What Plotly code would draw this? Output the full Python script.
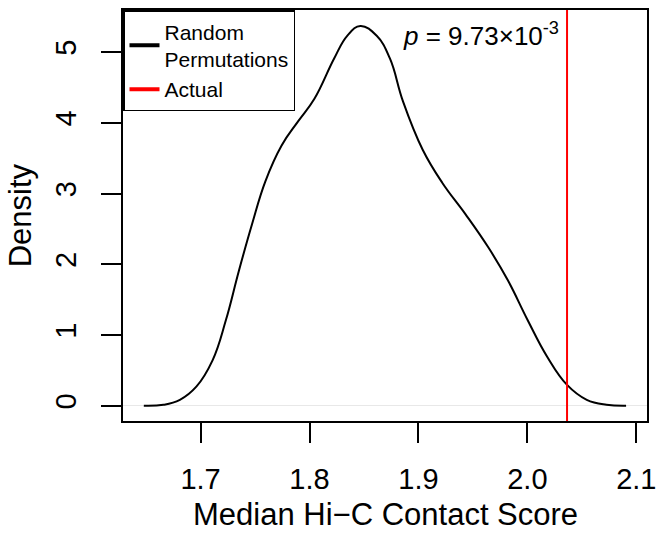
import plotly.graph_objects as go

# Density of random permutations
score = [1.6479, 1.6659, 1.6810, 1.6961, 1.7111, 1.7232, 1.7352, 1.7473, 1.7594,
         1.7744, 1.7895, 1.8045, 1.8226, 1.8346, 1.8467, 1.8617, 1.8738, 1.8859,
         1.9039, 1.9220, 1.9431, 1.9641, 1.9822, 2.0003, 2.0183, 2.0364, 2.0545,
         2.0726, 2.0906]
density = [0.0, 0.014, 0.084, 0.27, 0.646, 1.208, 1.91, 2.57, 3.17,
           3.68, 4.02, 4.34, 4.91, 5.23, 5.37, 5.23, 4.91, 4.30,
           3.62, 3.15, 2.71, 2.24, 1.77, 1.21, 0.69, 0.295, 0.084,
           0.014, 0.0]
actual = 2.0364
p_label = "<i>p</i> = 9.73×10<sup>-3</sup>"
x_ticks = [1.7, 1.8, 1.9, 2.0, 2.1]
x_ticktext = ["1.7", "1.8", "1.9", "2.0", "2.1"]
y_ticks = [0, 1, 2, 3, 4, 5]

x_range = [1.6288, 2.1098]
y_range = [-0.215, 5.595]

FONT = "Liberation Sans, Arial, Helvetica, sans-serif"

fig = go.Figure()
fig.add_trace(go.Scatter(
    x=score, y=density, mode="lines", showlegend=False,
    line=dict(color="black", width=2, shape="spline", smoothing=1.2),
))
fig.add_trace(go.Scatter(
    x=[actual, actual], y=y_range, mode="lines", showlegend=False,
    line=dict(color="#ff0000", width=2),
))
# legend entries (thicker keys, as in the reference)
fig.add_trace(go.Scatter(x=[None], y=[None], mode="lines",
                         name="Random<br>Permutations",
                         line=dict(color="black", width=4)))
fig.add_trace(go.Scatter(x=[None], y=[None], mode="lines", name="Actual",
                         line=dict(color="#ff0000", width=4)))

fig.add_annotation(x=1.8843, y=5.25, xref="x", yref="y", text=p_label,
                   showarrow=False, xanchor="left", yanchor="middle",
                   font=dict(family=FONT, size=26, color="black"))
fig.add_annotation(x=0.5, y=-0.228, xref="paper", yref="paper",
                   text="Median Hi\u2212C Contact Score", showarrow=False,
                   xanchor="center", yanchor="middle",
                   font=dict(family=FONT, size=31, color="black"))
fig.add_annotation(x=-0.195, y=0.5, xref="paper", yref="paper",
                   text="Density", showarrow=False, textangle=-90,
                   xanchor="center", yanchor="middle",
                   font=dict(family=FONT, size=31, color="black"))

axis_common = dict(showline=True, linecolor="black", linewidth=1.5, mirror=True,
                   ticks="outside", ticklen=20, tickwidth=1.5, tickcolor="black",
                   showgrid=False, tickfont=dict(family=FONT, size=29, color="black"))

fig.update_xaxes(range=x_range, tickvals=x_ticks, ticktext=x_ticktext,
                 zeroline=False, ticklabelstandoff=11, **axis_common)
fig.update_yaxes(range=y_range, tickvals=y_ticks, tickangle=-90,
                 zeroline=True, zerolinecolor="#e8e8e8", zerolinewidth=1,
                 ticklabelstandoff=14, **axis_common)

fig.update_layout(
    width=664, height=537,
    margin=dict(l=123, r=11, t=8, b=116),
    paper_bgcolor="white", plot_bgcolor="white",
    showlegend=True,
    legend=dict(x=0, y=1, xanchor="left", yanchor="top",
                bordercolor="black", borderwidth=1.5, bgcolor="white",
                font=dict(family=FONT, size=21, color="black"),
                itemwidth=30, tracegroupgap=0),
)

fig.write_html("out.html")
